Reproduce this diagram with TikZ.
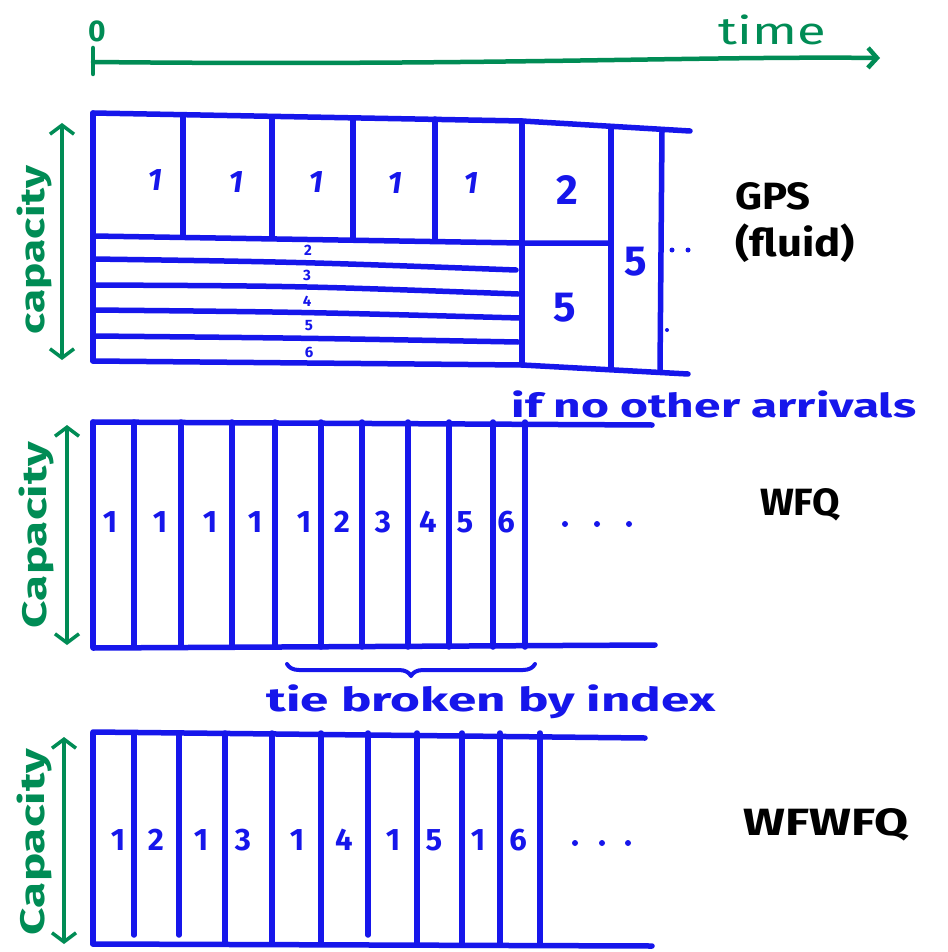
\documentclass[tikz,border=0pt]{standalone}
\usepackage{fontspec}
\setmainfont{Fira Sans}
\usetikzlibrary{arrows.meta,decorations.pathreplacing}
\definecolor{pen}{RGB}{22,22,235}
\definecolor{grn}{RGB}{0,140,85}
\newcommand\hwide[2]{\scalebox{#1}[1]{#2}}
\begin{document}
\begin{tikzpicture}[x=1pt,y=-1pt,line cap=round,line join=round,
  bl/.style={draw=pen,line width=5.5pt},
  gr/.style={draw=grn,line width=4.5pt},
  numtxt/.style={text=pen,font=\fontsize{31}{33}\selectfont\bfseries,inner sep=0pt},
  bigtxt/.style={text=pen,font=\fontsize{42}{44}\selectfont\bfseries,inner sep=0pt},
  smalltxt/.style={text=pen,font=\fontsize{15}{16}\selectfont\bfseries,inner sep=0pt},
  notetxt/.style={text=pen,font=\fontsize{33}{35}\selectfont\bfseries,inner sep=0pt},
  lbltxt/.style={text=black,font=\fontsize{38}{40}\selectfont\bfseries,inner sep=0pt},
  captxt/.style={text=grn,font=\fontsize{34}{36}\selectfont\bfseries,rotate=90,inner sep=0pt},
  carrow/.style={draw=grn,line width=3.5pt,{Straight Barb[length=9pt,width=24pt]}-{Straight Barb[length=9pt,width=24pt]}},
  dotmark/.style={fill=pen,circle,inner sep=0pt,minimum size=6pt}
]
\useasboundingbox (0,0) rectangle (947,952);
\fill[white] (0,0) rectangle (947,952);

% ---------- time axis ----------
\coordinate (t0) at (93,62);
\coordinate (t1) at (880,58);
\draw[gr] (93,48) -- (93,74);
\draw[gr,-{Straight Barb[length=9pt,width=20pt]}] (t0) .. controls (480,66) and (700,56) .. (t1);
\node[text=grn,font=\fontsize{30}{32}\selectfont\bfseries,inner sep=0pt] (zero) at (97,31) {0};
\node[text=grn,font=\fontsize{38}{40}\selectfont,inner sep=0pt] (time) at (772,30) {\hwide{1.38}{time}};

% ---------- GPS ----------
\draw[bl] (93,113) -- (522,121) -- (690,131);
\draw[bl] (93,113) -- (93,361);
\draw[bl] (93,361) -- (522,365) -- (688,374);
\foreach \x/\t/\b in {183/115/236, 272/117/238, 353/118/239, 435/119/240}
  \draw[bl] (\x,\t) -- (\x,\b);
\draw[bl] (522,121) -- (522,365);
\draw[bl] (611,127) -- (611,368);
\draw[bl] (662,131) -- (660,371);
\draw[bl] (93,236) -- (522,243) -- (611,243);
\draw[bl] (93,259) .. controls (300,262) .. (516,270);
\draw[bl] (93,285) .. controls (300,286) .. (518,294);
\draw[bl] (93,310) .. controls (300,312) .. (520,318);
\draw[bl] (93,336) .. controls (300,338) .. (518,342);
\foreach \x/\y [count=\i] in {155/180, 236/182, 316/182, 395/183, 471/183}
  \node[numtxt] (g\i) at (\x,\y) {\itshape 1};
\node[smalltxt] (s2) at (308,250) {2};
\node[smalltxt] (s3) at (307,275) {3};
\node[smalltxt] (s4) at (307,301) {4};
\node[smalltxt] (s5) at (309,326) {5};
\node[smalltxt] (s6) at (309,352) {6};
\node[bigtxt] (g2) at (567,190) {2};
\node[bigtxt] (g5a) at (565,308) {5};
\node[bigtxt] (g5b) at (636,262) {5};
\node[dotmark,minimum size=5pt] (d1) at (672,250) {};
\node[dotmark,minimum size=5pt] (d2) at (688,250) {};
\node[dotmark,minimum size=4pt] (d3) at (667,330) {};
\node[lbltxt] (gps) at (773,196) {\hwide{1.1}{GPS}};
\node[lbltxt] (fluid) at (795,243) {\hwide{1.15}{(fluid)}};
\node[notetxt] (ifno) at (714,404) {\hwide{1.45}{if no other arrivals}};
\draw[carrow] (62,123) -- (62,360);
\node[captxt] (c1) at (34,250) {\hwide{1.3}{capacity}};

% ---------- WFQ ----------
\draw[bl] (93,422) -- (652,425);
\draw[bl] (93,648) -- (655,645);
\foreach \x in {93,134,181,232,275,321,362,408,449,493,525}
  \draw[bl] (\x,422) -- (\x,647);
\foreach \x/\t [count=\i] in {110/1,160/1,210/1,255/1,304/1,342/2,383/3,428/4,465/5,506/6}
  \node[numtxt] (w\i) at (\x,522) {\t};
\foreach \x [count=\i] in {565,597,629}
  \node[dotmark] (wd\i) at (\x,524) {};
\node[lbltxt] (wfq) at (800,505) {\hwide{1.05}{WFQ}};
\draw[carrow] (67,425) -- (67,645);
\node[captxt] (c2) at (36,535) {\hwide{1.4}{Capacity}};
\coordinate (b0) at (287,664);
\coordinate (b1) at (535,664);
\draw[draw=pen,line width=4pt,decorate,decoration={brace,mirror,amplitude=12pt}] (b0) -- (b1);
\node[notetxt] (tie) at (491,702) {\hwide{1.55}{tie broken by index}};

% ---------- WFWFQ ----------
\draw[bl] (93,732) -- (645,738);
\draw[bl] (93,944) -- (652,946);
\foreach \x/\b in {93/944,134/935,179/935,225/944,272/944,321/944,368/935,417/944,462/944,500/944,540/944}
  \draw[bl] (\x,733) -- (\x,\b);
\foreach \x/\t [count=\i] in {118/1,156/2,201/1,243/3,297/1,344/4,393/1,434/5,478/1,518/6}
  \node[numtxt] (f\i) at (\x,840) {\t};
\foreach \x [count=\i] in {575,602,628}
  \node[dotmark] (fd\i) at (\x,843) {};
\node[lbltxt] (wfwfq) at (826,825) {\hwide{1.3}{WFWFQ}};
\draw[carrow] (64,737) -- (64,944);
\node[captxt] (c3) at (34,842) {\hwide{1.4}{Capacity}};
\end{tikzpicture}
\end{document}
